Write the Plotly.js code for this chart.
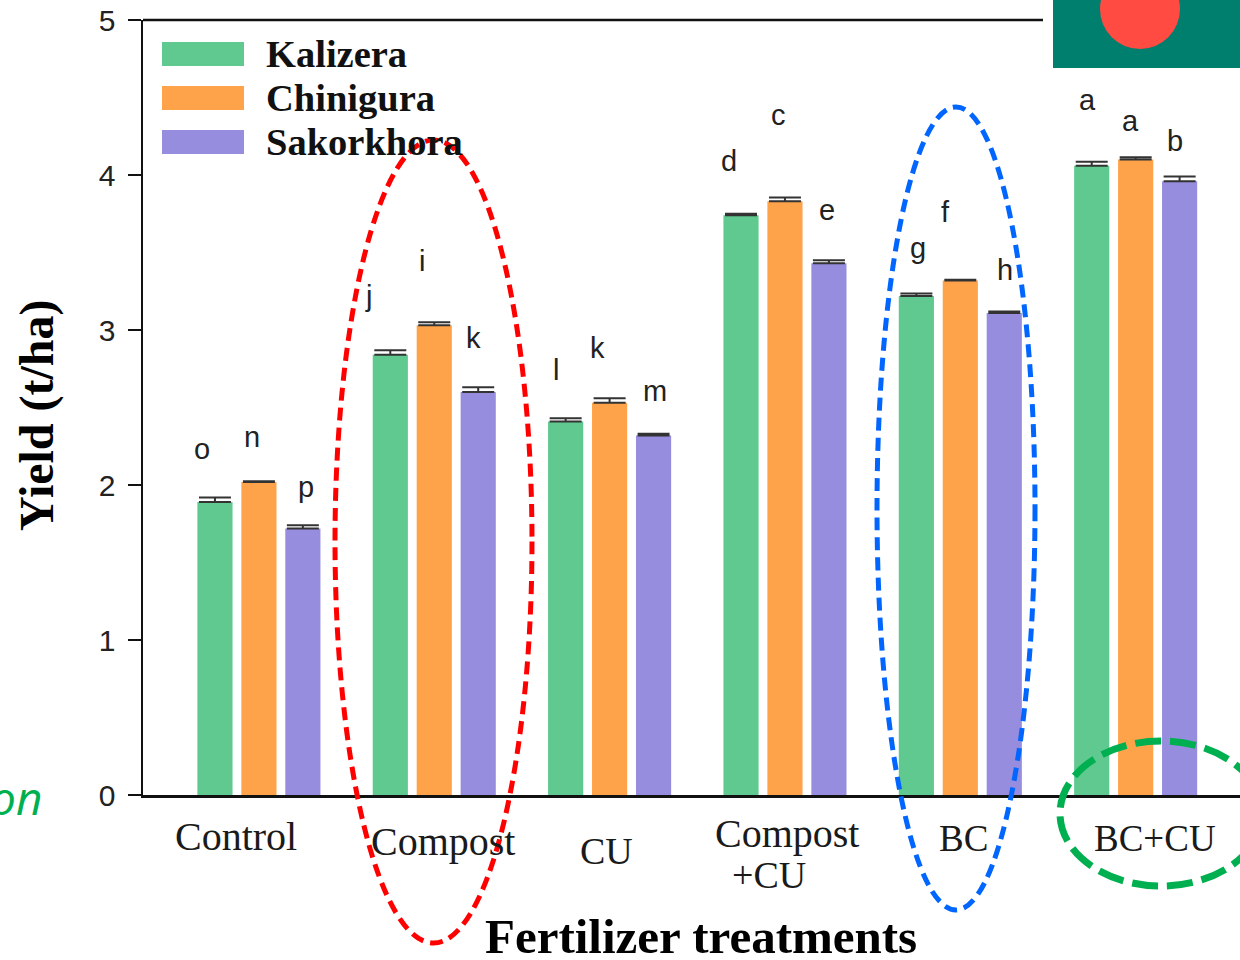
<!DOCTYPE html>
<html>
<head>
<meta charset="utf-8">
<script src="https://cdn.plot.ly/plotly-3.0.1.min.js"></script>
<style>html,body{margin:0;padding:0;background:#fff;overflow:hidden}#chart{width:1240px;height:960px}</style>
</head>
<body>
<div id="chart"></div>
<script>
// ---- data ----
const treatments = ["Control","Compost","CU","Compost+CU","BC","BC+CU"];
const kalizera   = [1.89,2.84,2.41,3.74,3.22,4.06];
const chinigura  = [2.02,3.03,2.53,3.83,3.32,4.10];
const sakorkhora = [1.72,2.60,2.32,3.43,3.11,3.96];
const kalizeraErr   = [0.03,0.03,0.02,0.01,0.015,0.025];
const chiniguraErr  = [0.005,0.02,0.03,0.025,0.005,0.015];
const sakorkhoraErr = [0.02,0.03,0.01,0.02,0.01,0.03];
const seriesNames = ["Kalizera","Chinigura","Sakorkhora"];
const seriesColors = ["#5FC98F","#FFA34A","#978DDE"];
const yTicks = [0,1,2,3,4,5];
const letters = ["o","n","p","j","i","k","l","k","m","d","c","e","g","f","h","a","a","b"];

// ---- page layout (pixels) ----
const L=143,R=1240,T=20,B=795;
const px=x=>(x-L)/(R-L), py=y=>(B-y)/(B-T);
const letterPos=[[202,449],[252,437],[306,487],[368,296],[422,261],[473,338],[556,370],[597,348],[655,391],[729,161],[778,115],[827,210],[918,248],[945,212],[1005,270],[1087,100],[1130,121],[1175,141]];
const catLabels=[["Control",236,836,40],["Compost",443,842,40],["CU",606,851,38],["Compost",787,833,40],["+CU",769,875,38],["BC",963,838,37],["BC+CU",1155,838,37]];
const legendRows=[54,98,142];

const note=(text,x,y,font,extra)=>Object.assign({text,xref:"paper",yref:"paper",x:px(x),y:py(y),showarrow:false,xanchor:"center",yanchor:"middle",font},extra||{});
const sans={family:"Liberation Sans, Arial, sans-serif",size:29,color:"#222"};
const tickSans={family:"Liberation Sans, Arial, sans-serif",size:30,color:"#222"};

const mk=(i,vals,errs)=>({type:"bar",name:seriesNames[i],x:treatments,y:vals,
  marker:{color:seriesColors[i],line:{width:0}},showlegend:false,hoverinfo:"skip",
  error_y:{type:"data",symmetric:false,array:errs,arrayminus:errs.map(()=>0),color:"#333",thickness:2,width:16}});
const data=[mk(0,kalizera,kalizeraErr),mk(1,chinigura,chiniguraErr),mk(2,sakorkhora,sakorkhoraErr)];

const annotations=[];
letters.forEach((t,i)=>annotations.push(note(t,letterPos[i][0],letterPos[i][1],sans)));
catLabels.forEach(c=>annotations.push(note(c[0],c[1],c[2],{family:"Liberation Serif, serif",size:c[3],color:"#1a1a1a"})));
seriesNames.forEach((n,i)=>annotations.push(note(n,264,legendRows[i],{family:"Liberation Serif, serif",size:38.5,color:"#111",weight:700},{xanchor:"left"})));
annotations.push(note("Fertilizer treatments",701,937,{family:"Liberation Serif, serif",size:49,color:"#000",weight:700}));
annotations.push(note("Yield (t/ha)",37,415,{family:"Liberation Serif, serif",size:48,color:"#000",weight:700},{textangle:-90}));
annotations.push(note("on",44,797,{family:"Open Sans, sans-serif",size:46,color:"#00B050",style:"italic"},{xanchor:"right"}));

const rect=(x0,y0,x1,y1,fill)=>({type:"rect",xref:"paper",yref:"paper",x0:px(x0),x1:px(x1),y0:py(y0),y1:py(y1),fillcolor:fill,line:{width:0},layer:"above"});
const ell=(x0,y0,x1,y1,color,w,dash)=>({type:"circle",xref:"paper",yref:"paper",x0:px(x0),x1:px(x1),y0:py(y0),y1:py(y1),line:{color,width:w,dash},fillcolor:"rgba(0,0,0,0)",layer:"above"});
const shapes=[
  {type:"line",xref:"paper",yref:"paper",x0:0,x1:px(1043),y0:1,y1:1,line:{color:"#111",width:2.5},layer:"above"},
  rect(1053,-4,1244,68,"#007F6E"),
  {type:"circle",xref:"paper",yref:"paper",x0:px(1100),x1:px(1180),y0:py(-31),y1:py(49),fillcolor:"#FF4B41",line:{width:0},layer:"above"},
  ...seriesColors.map((c,i)=>rect(162,legendRows[i]-12,244,legendRows[i]+12,c)),
  ell(335,140,532,943,"#FF0000",5,"13px,7px"),
  ell(877,107,1035,910,"#0066FF",5,"13px,7px"),
  ell(1060,741,1262,886,"#00B050",7,"26px,9px")
];

const layout={
  width:1240,height:960,paper_bgcolor:"#fff",plot_bgcolor:"#fff",
  margin:{l:L,r:1240-R,t:T,b:960-B,pad:0},
  barmode:"group",bargap:0.248,bargroupgap:0.2,showlegend:false,
  xaxis:{type:"category",range:[-0.661,5.595],showticklabels:false,ticks:"",showgrid:false,zeroline:false,showline:true,linecolor:"#111",linewidth:2.5,fixedrange:true},
  yaxis:{range:[0,5],tickvals:yTicks,ticks:"outside",ticklen:13,tickwidth:2.5,tickcolor:"#111",showgrid:false,zeroline:false,showline:true,linecolor:"#111",linewidth:2.5,ticklabelstandoff:6,tickfont:tickSans,fixedrange:true},
  annotations,shapes
};
Plotly.newPlot("chart",data,layout,{displayModeBar:false,staticPlot:true});
</script>
</body>
</html>
